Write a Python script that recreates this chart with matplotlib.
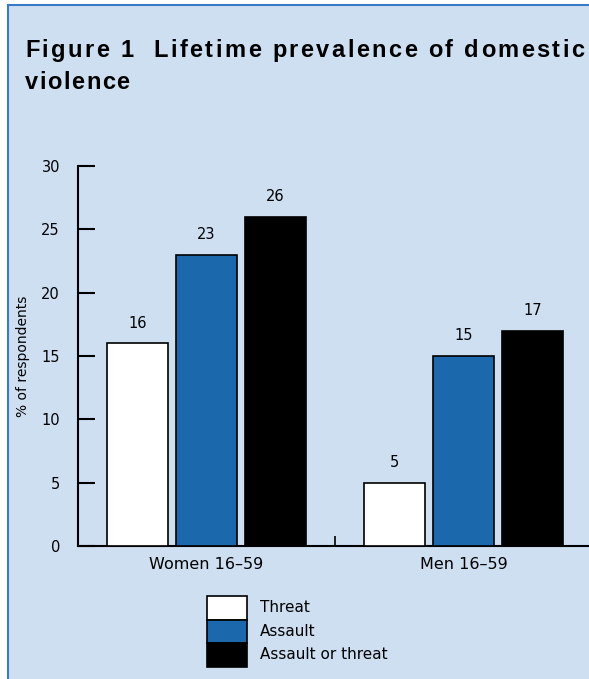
import matplotlib
matplotlib.use("Agg")
import matplotlib.pyplot as plt
from matplotlib.patches import Rectangle
from matplotlib.font_manager import FontProperties, findfont, get_font
import numpy as np

groups = ["Women 16\u201359", "Men 16\u201359"]
series = ["Threat", "Assault", "Assault or threat"]
values = {
    "Threat": [16, 5],
    "Assault": [23, 15],
    "Assault or threat": [26, 17],
}
colors = {"Threat": "#ffffff", "Assault": "#1b68ad", "Assault or threat": "#000000"}
yticks = [0, 5, 10, 15, 20, 25, 30]
title_lines = ["Figure 1  Lifetime prevalence of domestic", "violence"]
ylabel = "% of respondents"

W, H = 589, 679
DPI = 100
bg = "#cfdff2"
fig = plt.figure(figsize=(W / DPI, H / DPI), dpi=DPI)
fig.patch.set_facecolor("white")

# background panel with blue border (top and left)
fig.add_artist(Rectangle((8 / W, 0), 1, 1 - 5 / H, transform=fig.transFigure,
                         facecolor=bg, edgecolor="none", zorder=0))
fig.add_artist(plt.Line2D([8 / W, 8 / W], [0, 1 - 5 / H], transform=fig.transFigure,
                          color="#3a78c8", lw=1.5, zorder=1))
fig.add_artist(plt.Line2D([8 / W, 1], [1 - 5 / H, 1 - 5 / H], transform=fig.transFigure,
                          color="#3a78c8", lw=1.5, zorder=1))

TITLE_FAMILY = "Liberation Sans"
TITLE_SIZE = 17
prop = FontProperties(family=TITLE_FAMILY, weight="bold", size=TITLE_SIZE)
ft = get_font(findfont(prop))
ft.set_size(TITLE_SIZE, DPI)


def advances(s):
    out = []
    for ch in s:
        g = ft.load_char(ord(ch))
        out.append(g.linearHoriAdvance / 65536.0)
    return out


def spaced_text(s, x_px, base_px, spacing):
    adv = advances(s)
    xpos = x_px
    for ch, a in zip(s, adv):
        if ch != " ":
            fig.text(xpos / W, 1 - base_px / H, ch, va="baseline", ha="left",
                     fontproperties=prop)
        xpos += a + spacing


adv0 = advances(title_lines[0])
track = (558 - sum(adv0[:-1]) - adv0[-1] * 0.9) / (len(title_lines[0]) - 1)
spaced_text(title_lines[0], 25, 57, track)
spaced_text(title_lines[1], 25, 89, track * 0.6)

left, right = 78 / W, 592 / W
bottom, top = 1 - 546 / H, 1 - 166 / H
ax = fig.add_axes([left, bottom, right - left, top - bottom])
ax.set_facecolor("none")

x = np.arange(len(groups))
bw = 0.237
pitch = 0.268
for i, s in enumerate(series):
    pos = x + (i - 1) * pitch
    ax.bar(pos, values[s], width=bw, color=colors[s], edgecolor="black", linewidth=1.2,
           zorder=3)
    for p, v in zip(pos, values[s]):
        ax.text(p, v + 1.0, str(v), ha="center", va="bottom", fontsize=10.5, family="DejaVu Sans")

ax.set_xlim(-0.5, 1.5)
ax.set_ylim(0, 30)
ax.set_yticks(yticks)
ax.set_yticklabels([str(t) for t in yticks], fontsize=10.5)
ax.set_xticks([0.5], minor=True)
ax.set_xticks(x)
ax.set_xticklabels(groups, fontsize=11.5)
ax.tick_params(axis="x", which="major", length=0, pad=8)
ax.tick_params(axis="x", which="minor", direction="in", length=7, width=1.2)
ax.tick_params(axis="y", direction="in", length=12, width=1.5, pad=13)
for s in ["top", "right"]:
    ax.spines[s].set_visible(False)
ax.spines["left"].set_linewidth(1.5)
ax.spines["bottom"].set_linewidth(1.5)
ax.set_ylabel(ylabel, fontsize=10, labelpad=8)

# legend: stacked patches
lx, lw_, lh = 207, 40, 23.5
ly0 = 596
for i, s in enumerate(series):
    y_top = ly0 + i * lh
    fig.add_artist(Rectangle((lx / W, 1 - (y_top + lh) / H), lw_ / W, lh / H,
                             transform=fig.transFigure, facecolor=colors[s],
                             edgecolor="black", lw=1.2, zorder=3))
    fig.text(260 / W, 1 - (y_top + lh / 2) / H, s, fontsize=11, va="center", ha="left")

fig.savefig("out.png", dpi=DPI, facecolor=fig.get_facecolor())
